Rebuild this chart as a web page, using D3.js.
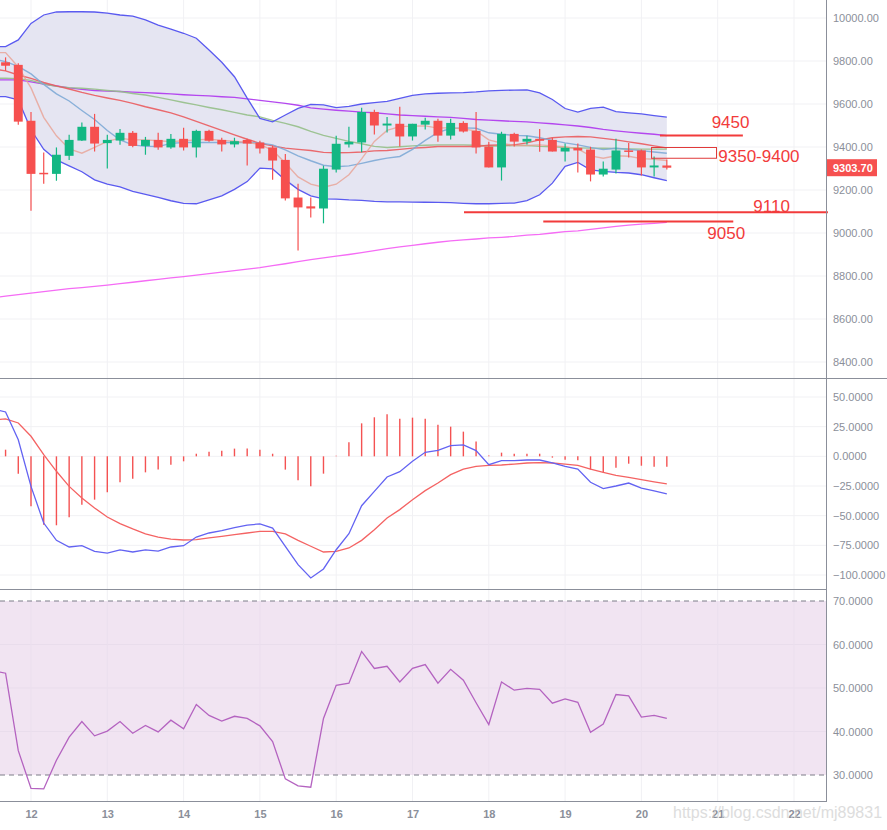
<!DOCTYPE html>
<html><head><meta charset="utf-8">
<script src="https://cdn.jsdelivr.net/npm/d3@7"></script>
<style>html,body{margin:0;padding:0;background:#fff;}svg{display:block;font-family:"Liberation Sans",Arial,sans-serif;}</style>
</head><body>
<svg id="c" width="887" height="830"></svg>
<script>
// ---- DATA ----
const candleStart = "2020-05-11T16:00:00Z";   // first candle, 4h candles
const indStart = "2020-05-11T12:00:00Z";      // indicator series start (one bar earlier)
const stepHours = 4;
const opens  = [9794,9782,9522,9280,9275,9359,9430,9494,9418,9430,9466,9405,9433,9398,9438,9398,9475,9433,9412,9433,9421,9398,9340,9165,9124,9114,9295,9412,9421,9563,9500,9508,9449,9504,9522,9453,9512,9475,9402,9305,9461,9425,9438,9433,9379,9396,9388,9272,9295,9384,9384,9305,9314];
const highs  = [9817,9790,9563,9374,9398,9457,9514,9554,9457,9484,9475,9447,9466,9461,9489,9480,9480,9443,9443,9438,9429,9407,9368,9229,9165,9313,9452,9494,9582,9573,9540,9587,9508,9536,9531,9531,9520,9563,9425,9471,9466,9452,9484,9443,9416,9416,9401,9333,9438,9419,9388,9356,9342];
const lows   = [9754,9503,9104,9229,9243,9340,9428,9379,9300,9410,9399,9364,9387,9392,9384,9351,9424,9379,9398,9314,9370,9248,9151,8919,9072,9045,9281,9398,9376,9458,9467,9402,9430,9481,9425,9435,9467,9370,9305,9244,9402,9412,9378,9379,9333,9281,9240,9263,9277,9351,9267,9263,9295];
const closes = [9778,9518,9275,9276,9364,9433,9494,9416,9433,9466,9405,9433,9398,9438,9398,9475,9429,9412,9427,9416,9393,9337,9161,9119,9114,9299,9415,9424,9563,9500,9509,9449,9508,9522,9453,9512,9472,9398,9305,9461,9425,9438,9429,9379,9396,9384,9272,9299,9384,9378,9305,9314,9303.7];

const bbUpper = [9867,9867,9898,9975,10014,10028,10029,10029,10028,10023,10014,10009,9991,9967,9948,9929,9906,9851,9794,9727,9627,9533,9517,9549,9580,9598,9596,9583,9589,9600,9606,9612,9626,9640,9647,9650,9652,9653,9656,9661,9663,9665,9666,9652,9621,9579,9562,9580,9585,9565,9559,9554,9546,9539];
const bbLower = [9634,9634,9619,9480,9389,9340,9312,9285,9247,9227,9215,9194,9180,9166,9150,9138,9136,9154,9173,9203,9239,9302,9298,9247,9203,9173,9159,9158,9154,9152,9147,9145,9145,9144,9143,9142,9141,9138,9136,9136,9138,9139,9151,9178,9232,9310,9328,9294,9287,9282,9279,9271,9257,9244];
const ma5   = [9839,9839,9772,9675,9538,9452,9391,9371,9398,9426,9441,9433,9433,9429,9425,9429,9433,9436,9431,9427,9421,9412,9384,9326,9261,9227,9213,9227,9271,9345,9426,9477,9495,9497,9498,9488,9490,9483,9475,9433,9418,9407,9407,9410,9405,9401,9391,9359,9348,9359,9357,9346,9343,9337];
const ma10  = [9809,9797,9775,9740,9691,9647,9614,9570,9528,9477,9433,9410,9403,9402,9417,9421,9421,9421,9421,9421,9421,9419,9410,9387,9359,9336,9315,9308,9312,9324,9337,9348,9356,9389,9431,9468,9486,9489,9487,9466,9459,9454,9452,9443,9431,9419,9410,9398,9388,9394,9389,9383,9377,9371];
const ma30  = [9763,9754,9735,9719,9700,9684,9670,9654,9640,9628,9617,9603,9587,9573,9559,9540,9519,9498,9477,9456,9436,9417,9405,9395,9389,9384,9375,9373,9374,9377,9382,9384,9389,9395,9398,9402,9402,9402,9402,9408,9410,9410,9419,9433,9443,9447,9449,9447,9440,9433,9424,9415,9405,9396];
const ma60  = [9720,9720,9718,9710,9693,9682,9676,9673,9669,9663,9658,9649,9642,9631,9619,9607,9596,9584,9573,9561,9549,9540,9524,9510,9494,9473,9454,9440,9426,9415,9403,9398,9401,9405,9408,9410,9410,9410,9408,9405,9405,9407,9407,9403,9401,9398,9396,9395,9394,9393,9391,9390,9390,9390];
const ma120 = [9712,9712,9712,9703,9693,9684,9675,9668,9663,9660,9658,9655,9653,9650,9647,9643,9640,9638,9634,9631,9624,9617,9610,9603,9594,9582,9576,9571,9567,9562,9559,9554,9549,9546,9543,9540,9538,9533,9528,9525,9522,9519,9517,9512,9508,9503,9498,9491,9482,9475,9469,9464,9459,9453];
const ma200 = [8699,8706,8713,8720,8727,8734,8741,8746,8752,8758,8765,8771,8778,8784,8791,8797,8804,8811,8818,8825,8832,8839,8848,8857,8867,8876,8884,8892,8900,8909,8918,8927,8935,8942,8950,8957,8963,8968,8972,8977,8980,8984,8990,8994,9000,9006,9010,9017,9024,9031,9037,9041,9045,9049];

const macdLine = [40.0,37.4,14.0,-25.3,-56.2,-70.8,-76.4,-75.3,-80.1,-81.5,-78.9,-80.6,-78.9,-79.8,-76.4,-75.3,-68.0,-64.6,-62.6,-60.1,-57.9,-57.0,-60.4,-75.8,-91.3,-102.5,-94.9,-78.7,-65.2,-41.6,-29.5,-17.4,-12.9,-4.2,3.4,5.0,9.0,9.6,4.8,-7.0,-3.7,-3.7,-3.1,-3.1,-5.6,-8.4,-10.7,-21.9,-27.2,-25.0,-22.5,-26.7,-29.2,-31.7];
const signalLine = [30.7,31.5,28.1,16.9,1.4,-12.6,-25.3,-35.1,-43.5,-51.1,-56.7,-61.2,-65.4,-68.0,-69.7,-70.5,-70.2,-68.8,-67.4,-66.0,-64.6,-63.2,-63.2,-65.4,-70.8,-75.8,-80.6,-80.1,-77.2,-70.8,-61.8,-52.0,-44.9,-36.5,-28.9,-22.5,-15.4,-10.7,-8.4,-7.6,-7.3,-6.5,-5.6,-5.3,-5.6,-6.5,-7.6,-10.7,-13.5,-16.0,-17.7,-19.7,-21.6,-23.3];
const histogram = [9.3,5.6,-14.6,-42.1,-57.6,-58.1,-51.4,-40.7,-36.5,-30.3,-21.9,-18.8,-13.5,-11.2,-7.0,-4.2,2.2,3.9,4.8,6.5,6.5,5.6,2.2,-11.2,-20.2,-25.3,-14.6,0.4,11.8,27.8,32.9,35.4,31.7,32.6,31.7,26.7,25.0,20.8,12.4,0.6,3.1,2.2,2.2,2.2,-1.1,-2.8,-3.4,-11.2,-13.5,-9.6,-6.2,-7.9,-8.7,-8.7];
const rsi = [54.0,53.4,35.6,26.9,26.8,33.4,38.7,42.3,39.0,40.1,42.3,39.6,41.4,39.9,42.6,40.6,46.2,43.7,42.4,43.5,43.0,41.3,37.7,29.1,27.5,27.2,43.0,50.6,51.1,58.4,54.5,55.0,51.4,54.5,55.4,51.1,54.3,51.8,46.6,41.6,51.4,49.5,49.9,49.7,46.5,47.5,46.7,39.8,41.7,48.5,48.2,43.3,43.7,43.0];

const priceTicks = [8400,8600,8800,9000,9200,9400,9600,9800,10000];
const macdTicks = [50,25,0,-25,-50,-75,-100];
const rsiTicks = [30,40,50,60,70];
const lastPrice = 9303.70;

// annotations (red drawings), positioned in time/price
const annoLines = [
  {from:"2020-05-20T05:50:00Z", to:"2020-05-21T07:55:00Z", level:9453},
  {from:"2020-05-17T16:12:00Z", to:"2020-05-22T10:40:00Z", level:9096},
  {from:"2020-05-18T17:08:00Z", to:"2020-05-21T04:54:00Z", level:9054}
];
const annoBox = {from:"2020-05-20T03:02:00Z", to:"2020-05-20T23:28:00Z", low:9350, high:9400};
const annoTexts = [
  {text:"9450", at:"2020-05-20T22:06:00Z", price:9488},
  {text:"9350-9400", at:"2020-05-21T00:11:00Z", price:9331},
  {text:"9110", at:"2020-05-21T11:12:00Z", price:9100},
  {text:"9050", at:"2020-05-20T20:44:00Z", price:8972}
];

// ---- LAYOUT ----
const W = 887, H = 830, plotR = 826;
const svg = d3.select("#c");
const x = d3.scaleUtc().domain([new Date("2020-05-12T00:00:00Z"), new Date("2020-05-22T00:00:00Z")]).range([31, 794]);
const yP = d3.scaleLinear().domain([8400, 10000]).range([362, 18]);
const yM = d3.scaleLinear().domain([-100, 50]).range([575, 397]);
const yR = d3.scaleLinear().domain([30, 70]).range([775, 601]);

const stepMs = stepHours * 3600e3;
const tC = closes.map((_, i) => new Date(+new Date(candleStart) + i * stepMs));
const tI = bbUpper.map((_, i) => new Date(+new Date(indStart) + i * stepMs));
const barW = (x(new Date(+tC[0] + stepMs)) - x(tC[0])) * 0.7;

const defs = svg.append("defs");
function clip(id, y0, h) { defs.append("clipPath").attr("id", id).append("rect").attr("x", 0).attr("y", y0).attr("width", plotR).attr("height", h); }
clip("cp", 0, 378); clip("cm", 379, 210); clip("cr", 590, 211);

const axisCol = "#8b8f9a", gridCol = "#f1f1f4";

// grids
const days = x.ticks(d3.utcDay.every(1));
const grid = svg.append("g");
grid.selectAll(".vg").data(days).join("line").attr("x1", d => x(d)).attr("x2", d => x(d)).attr("y1", 0).attr("y2", 801).attr("stroke", gridCol);
grid.selectAll(".hp").data(priceTicks).join("line").attr("x1", 0).attr("x2", plotR).attr("y1", d => yP(d)).attr("y2", d => yP(d)).attr("stroke", gridCol);
grid.selectAll(".hm").data(macdTicks).join("line").attr("x1", 0).attr("x2", plotR).attr("y1", d => yM(d)).attr("y2", d => yM(d)).attr("stroke", gridCol);

// ---- PRICE PANE ----
const gp = svg.append("g").attr("clip-path", "url(#cp)");
const bandArea = d3.area().x((d, i) => x(tI[i])).y0((d, i) => yP(bbLower[i])).y1(d => yP(d));
gp.append("path").datum(bbUpper).attr("d", bandArea).attr("fill", "#e5e5f2");
const lineP = arr => d3.line().x((d, i) => x(tI[i])).y(d => yP(d))(arr);
const lines = [
  [ma200, "#f56cf5", 1.3, 1],
  [ma120, "#b447ef", 1.4, 1],
  [ma60, "#95bf88", 1.4, 0.9],
  [ma30, "#ea5b5e", 1.4, 0.9],
  [ma10, "#7eaad6", 1.4, 0.9],
  [ma5, "#e8a194", 1.4, 0.8],
];
lines.forEach(([arr, c, w, o]) => gp.append("path").attr("d", lineP(arr)).attr("fill", "none").attr("stroke", c).attr("stroke-width", w).attr("opacity", o));
gp.append("path").attr("d", lineP(bbUpper)).attr("fill", "none").attr("stroke", "#5a5af0").attr("stroke-width", 1.3);
gp.append("path").attr("d", lineP(bbLower)).attr("fill", "none").attr("stroke", "#5a5af0").attr("stroke-width", 1.3);

const up = "#13b783", dn = "#f6504f";
const cg = gp.append("g");
closes.forEach((c, i) => {
  const o = opens[i], col = c >= o ? up : dn, cx = x(tC[i]);
  cg.append("line").attr("x1", cx).attr("x2", cx).attr("y1", yP(highs[i])).attr("y2", yP(lows[i])).attr("stroke", col).attr("stroke-width", 1.2);
  const top = yP(Math.max(o, c)), bot = yP(Math.min(o, c));
  cg.append("rect").attr("x", cx - barW / 2).attr("width", barW).attr("y", top).attr("height", Math.max(1.5, bot - top)).attr("fill", col);
});

// annotations
const red = "#f23b3b";
const ga = svg.append("g");
annoLines.forEach(a => ga.append("line").attr("x1", x(new Date(a.from))).attr("x2", x(new Date(a.to))).attr("y1", yP(a.level)).attr("y2", yP(a.level)).attr("stroke", red).attr("stroke-width", 2));
ga.append("rect").attr("x", x(new Date(annoBox.from)) + 0.5).attr("y", yP(annoBox.high) + 0.5)
  .attr("width", x(new Date(annoBox.to)) - x(new Date(annoBox.from))).attr("height", yP(annoBox.low) - yP(annoBox.high))
  .attr("fill", "none").attr("stroke", "#e03a3a").attr("stroke-width", 1);
annoTexts.forEach(a => ga.append("text").attr("x", x(new Date(a.at))).attr("y", yP(a.price)).attr("fill", "#f23b3b").attr("font-size", 17).text(a.text));

// ---- MACD PANE ----
const gm = svg.append("g").attr("clip-path", "url(#cm)");
gm.selectAll(".h").data(histogram).join("line").attr("x1", (d, i) => x(tI[i])).attr("x2", (d, i) => x(tI[i]))
  .attr("y1", yM(0)).attr("y2", d => yM(d)).attr("stroke", "#f45252").attr("stroke-width", 1.4);
const lineM = arr => d3.line().x((d, i) => x(tI[i])).y(d => yM(d))(arr);
gm.append("path").attr("d", lineM(signalLine)).attr("fill", "none").attr("stroke", "#f46363").attr("stroke-width", 1.3);
gm.append("path").attr("d", lineM(macdLine)).attr("fill", "none").attr("stroke", "#6363f2").attr("stroke-width", 1.3);

// ---- RSI PANE ----
const gr = svg.append("g").attr("clip-path", "url(#cr)");
gr.append("rect").attr("x", 0).attr("width", plotR).attr("y", yR(70)).attr("height", yR(30) - yR(70)).attr("fill", "#f1e4f2");
gr.selectAll(".rg").data([40, 50, 60]).join("line").attr("x1", 0).attr("x2", plotR).attr("y1", d => yR(d)).attr("y2", d => yR(d)).attr("stroke", "#e9ddec");
gr.selectAll(".rv").data(days).join("line").attr("x1", d => x(d)).attr("x2", d => x(d)).attr("y1", yR(70)).attr("y2", yR(30)).attr("stroke", "#ebdfee");
gr.selectAll(".rd").data([70, 30]).join("line").attr("x1", 0).attr("x2", plotR).attr("y1", d => yR(d)).attr("y2", d => yR(d))
  .attr("stroke", "#7d7d88").attr("stroke-dasharray", "5,4").attr("stroke-width", 1);
gr.append("path").attr("d", d3.line().x((d, i) => x(tI[i])).y(d => yR(d))(rsi)).attr("fill", "none").attr("stroke", "#b463c0").attr("stroke-width", 1.3);

// ---- FRAME & AXES ----
const fr = svg.append("g").attr("stroke", axisCol).attr("stroke-width", 1);
fr.append("line").attr("x1", 0).attr("x2", W).attr("y1", 378.5).attr("y2", 378.5);
fr.append("line").attr("x1", 0).attr("x2", plotR).attr("y1", 589.5).attr("y2", 589.5);
fr.append("line").attr("x1", 0).attr("x2", plotR).attr("y1", 801.5).attr("y2", 801.5);
fr.append("line").attr("x1", plotR + 0.5).attr("x2", plotR + 0.5).attr("y1", 0).attr("y2", 802);

function rightAxis(scale, ticks, fmt) {
  const g = svg.append("g").attr("transform", `translate(${plotR},0)`)
    .call(d3.axisRight(scale).tickValues(ticks).tickFormat(fmt).tickSize(0).tickPadding(7));
  g.select(".domain").remove();
  g.selectAll("text").attr("fill", axisCol).attr("font-size", 11).attr("font-family", "Liberation Sans, Arial, sans-serif");
}
rightAxis(yP, priceTicks, d3.format(".2f"));
rightAxis(yM, macdTicks, d3.format(".4f"));
rightAxis(yR, rsiTicks, d3.format(".4f"));

const xa = svg.append("g").attr("transform", "translate(0,802)")
  .call(d3.axisBottom(x).ticks(d3.utcDay.every(1)).tickFormat(d3.utcFormat("%-d")).tickSize(0).tickPadding(8));
xa.select(".domain").remove();
xa.selectAll("text").attr("fill", axisCol).attr("font-size", 11).attr("font-weight", "bold").attr("font-family", "Liberation Sans, Arial, sans-serif");

// last price tag
svg.append("rect").attr("x", plotR + 1).attr("y", yP(lastPrice) - 8.5).attr("width", 50).attr("height", 17).attr("fill", "#f6504f");
svg.append("text").attr("x", plotR + 7).attr("y", yP(lastPrice) + 4).attr("fill", "#fff").attr("font-size", 11).attr("font-weight", "bold").text(d3.format(".2f")(lastPrice));

// watermark
svg.append("text").attr("x", 673).attr("y", 818).attr("font-size", 16).attr("fill", "#cfcfcf").attr("opacity", 0.7).text("https://blog.csdn.net/mj89831");
</script>
</body></html>
